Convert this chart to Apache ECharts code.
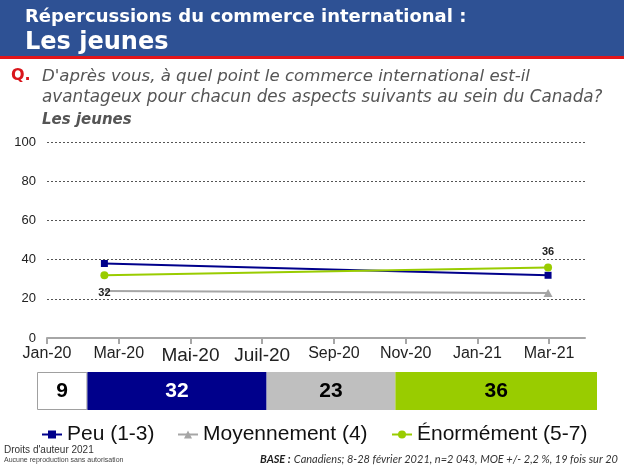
<!DOCTYPE html>
<html><head><meta charset="utf-8">
<script src="https://cdn.jsdelivr.net/npm/echarts@6/dist/echarts.min.js"></script>
<style>html,body{margin:0;padding:0;background:#fff}#c{width:624px;height:468px}</style>
</head><body><div id="c"></div>
<script>
// ---- data ----
const monthTicks = [0, 2, 4, 6, 8, 10, 12, 14];
const tickLabels = ['Jan-20', 'Mar-20', 'Mai-20', 'Juil-20', 'Sep-20', 'Nov-20', 'Jan-21', 'Mar-21'];
const surveyMonths = [1.6, 13.97]; // months since Jan 2020 (Feb 2020, Mar 2021 waves)
const peu = [38, 32];
const moyen = [24, 23];
const enorme = [32, 36];
const seriesNames = ['Peu (1-3)', 'Moyennement (4)', 'Énormément (5-7)'];
const barCats = ['NSP', 'Peu', 'Moyennement', 'Énormément'];
const barValues = [9, 32, 23, 36];

const NAVY = '#00008B', GRAY = '#A6A6A6', GREEN = '#99CC00', BARGRAY = '#BFBFBF';

const chart = echarts.init(document.getElementById('c'), null, {renderer: 'canvas'});
const pts = a => a.map((v, i) => [surveyMonths[i], v]);

const barColors = ['#FFFFFF', NAVY, BARGRAY, GREEN];
const barTextColors = ['#000', '#fff', '#000', '#000'];
const QFONT = '"DejaVu Sans", Verdana, sans-serif';
const legendText = {fontSize: 21, color: '#111', fontFamily: 'Arial, "Liberation Sans"'};

const option = {
  animation: false,
  graphic: [
    {type: 'rect', shape: {x: 0, y: 0, width: 624, height: 57}, style: {fill: '#2E5194'}},
    {type: 'rect', shape: {x: 0, y: 56, width: 624, height: 3}, style: {fill: '#E3151A'}},
    {type: 'text', left: 25, top: 8, style: {text: 'Répercussions du commerce international :', fill: '#fff', font: 'bold 18px ' + QFONT}},
    {type: 'text', left: 25, top: 31, style: {text: 'Les jeunes', fill: '#fff', font: 'bold 24px ' + QFONT}},
    {type: 'text', left: 11, top: 68, style: {text: 'Q.', fill: '#D9161C', font: 'bold 16px ' + QFONT}},
    {type: 'text', left: 42, top: 68, style: {text: "D'après vous, à quel point le commerce international est-il", fill: '#555', font: 'italic 16.6px ' + QFONT}},
    {type: 'text', left: 42, top: 89, style: {text: 'avantageux pour chacun des aspects suivants au sein du Canada?', fill: '#555', font: 'italic 16.8px ' + QFONT}},
    {type: 'text', left: 42, top: 113, style: {text: 'Les jeunes', fill: '#555', font: 'italic bold 15px ' + QFONT}},
    {type: 'text', left: 4, top: 445, style: {text: "Droits d'auteur 2021", fill: '#333', font: '10px Arial, "Liberation Sans", sans-serif'}},
    {type: 'text', left: 4, top: 457, style: {text: 'Aucune reproduction sans autorisation', fill: '#444', font: '7px Arial, "Liberation Sans", sans-serif'}},
    {type: 'text', right: 6, top: 453, style: {rich: {
      b: {font: 'italic bold 11px Lato, "Open Sans", sans-serif', fill: '#222'},
      n: {font: 'italic 11px Lato, "Open Sans", sans-serif', fill: '#333'}
    }, text: '{b|BASE :} {n|Canadiens; 8-28 février 2021, n=2 043, MOE +/- 2,2 %, 19 fois sur 20}'}}
  ],
  grid: [
    {left: 47, top: 142, width: 538, height: 196},
    {left: 37, top: 372, width: 560, height: 38}
  ],
  xAxis: [
    {type: 'value', gridIndex: 0, min: 0, max: 15, interval: 1,
     axisLine: {show: true, lineStyle: {color: GRAY, width: 2}},
     axisTick: {show: true, customValues: monthTicks, length: 6, lineStyle: {color: GRAY, width: 2}},
     splitLine: {show: false},
     axisLabel: {customValues: monthTicks, margin: 8, fontSize: 16, color: '#222', fontFamily: 'Arial, "Liberation Sans"',
       formatter: v => {
         const i = monthTicks.indexOf(v);
         if (i < 0) return '';
         return (i === 2 || i === 3) ? '{big|' + tickLabels[i] + '}' : tickLabels[i];
       },
       rich: {big: {fontSize: 19, color: '#222', fontFamily: 'Arial, "Liberation Sans"'}}}
    },
    {type: 'value', gridIndex: 1, min: 0, max: 100, show: false}
  ],
  yAxis: [
    {type: 'value', gridIndex: 0, min: 0, max: 100, interval: 20,
     axisLine: {show: false}, axisTick: {show: false},
     splitLine: {show: true, lineStyle: {type: [2, 2], color: '#555', width: 1}},
     axisLabel: {fontSize: 13, color: '#222', margin: 11, fontFamily: 'Arial, "Liberation Sans"'}
    },
    {type: 'category', gridIndex: 1, data: ['x'], show: false}
  ],
  legend: [
    {data: [seriesNames[0]], left: 36, top: 419, itemWidth: 20, itemHeight: 10, itemGap: 4, textStyle: legendText},
    {data: [seriesNames[1]], left: 172, top: 419, itemWidth: 20, itemHeight: 10, itemGap: 4, textStyle: legendText},
    {data: [seriesNames[2]], left: 386, top: 419, itemWidth: 20, itemHeight: 10, itemGap: 4, textStyle: legendText}
  ],
  series: [
    {name: seriesNames[0], type: 'line', xAxisIndex: 0, yAxisIndex: 0, data: pts(peu).map(d => ({value: d})),
     symbol: 'rect', symbolSize: 7, lineStyle: {color: NAVY, width: 2}, itemStyle: {color: NAVY}, z: 5},
    {name: seriesNames[1], type: 'line', xAxisIndex: 0, yAxisIndex: 0,
     data: pts(moyen).map((d, i) => i === 0 ? {value: d, symbolSize: 0} : {value: d}),
     symbol: 'triangle', symbolSize: [9, 8],
     lineStyle: {color: GRAY, width: 2}, itemStyle: {color: GRAY}, z: 4},
    {name: seriesNames[2], type: 'line', xAxisIndex: 0, yAxisIndex: 0,
     data: pts(enorme).map((d, i) => i === 0 ? {value: d, label: {position: 'bottom', distance: 8}} : {value: d}),
     symbol: 'circle', symbolSize: 8, lineStyle: {color: GREEN, width: 2}, itemStyle: {color: GREEN}, z: 6,
     label: {show: true, fontSize: 11, fontWeight: 'bold', color: '#222', fontFamily: 'Arial, "Liberation Sans"',
       position: 'top', distance: 6, formatter: p => p.value[1]}}
  ].concat(barValues.map((v, i) => ({
    name: barCats[i], type: 'bar', stack: 'b', xAxisIndex: 1, yAxisIndex: 1, barWidth: 38,
    data: [v],
    itemStyle: {color: barColors[i], borderColor: i === 0 ? '#A0A0A0' : barColors[i], borderWidth: i === 0 ? 1 : 0},
    label: {show: true, position: 'inside', fontSize: 21, fontWeight: 'bold', color: barTextColors[i], fontFamily: 'Arial, "Liberation Sans"'}
  })))
};

chart.setOption(option);
</script></body></html>
